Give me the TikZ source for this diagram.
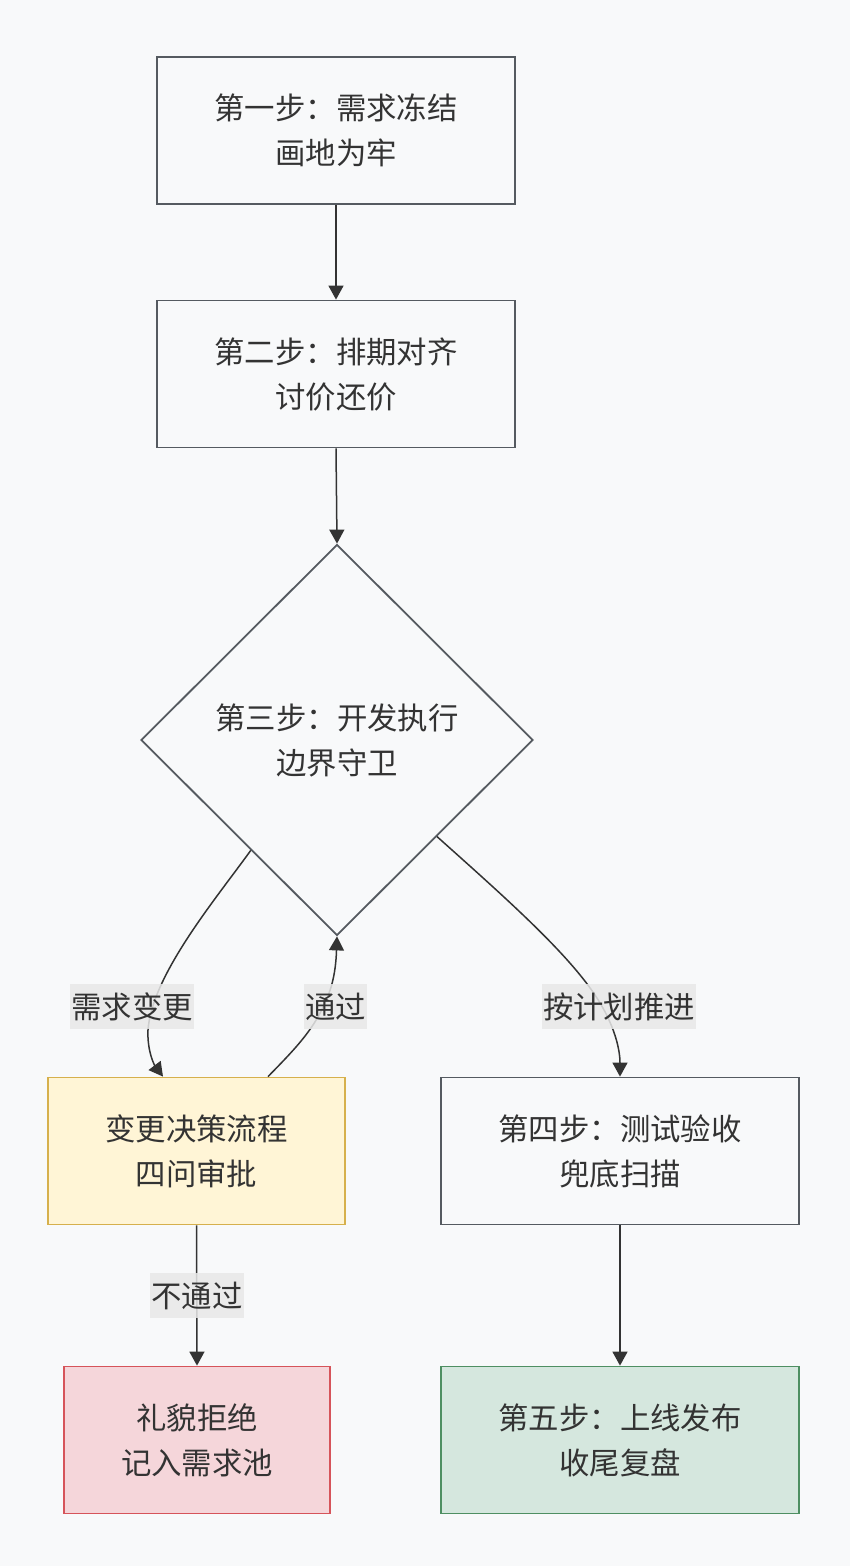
\documentclass[tikz,border=0pt]{standalone}
\usepackage{fontspec}
\setmainfont{Noto Sans CJK SC}
\usetikzlibrary{shapes.geometric,arrows.meta}
\definecolor{bg}{HTML}{F8F9FA}
\definecolor{nfill}{HTML}{F8F9FA}
\definecolor{nline}{HTML}{555A60}
\definecolor{txt}{HTML}{333333}
\definecolor{yfill}{HTML}{FFF5D6}
\definecolor{yline}{HTML}{D6B04C}
\definecolor{rfill}{HTML}{F5D6DA}
\definecolor{rline}{HTML}{D6545A}
\definecolor{gfill}{HTML}{D5E7DE}
\definecolor{gline}{HTML}{4E8F62}
\definecolor{lbg}{HTML}{E8E8E8}
\tikzset{
  base/.style={font=\fontsize{30.4pt}{45pt}\selectfont, text=txt, align=center, line width=1.8pt, inner sep=0pt},
  box/.style={base, rectangle, draw=nline, fill=nfill, minimum height=147pt},
  dia/.style={base, diamond, aspect=1, draw=nline, fill=nfill, minimum width=392pt, minimum height=391pt},
  ybox/.style={box, draw=yline, fill=yfill},
  rbox/.style={box, draw=rline, fill=rfill},
  gbox/.style={box, draw=gline, fill=gfill},
  edge/.style={draw=txt, line width=1.5pt, -{Triangle[length=14pt,width=15pt]}},
  lbl/.style={font=\fontsize{30.4pt}{45pt}\selectfont, text=txt, fill=lbg, fill opacity=0.85, text opacity=1, inner xsep=1pt, inner ysep=0pt, minimum height=45pt}
}
\begin{document}
\begin{tikzpicture}[x=1pt,y=-1pt]
\useasboundingbox[fill=bg] (0,0) rectangle (850,1566);
\node[box, minimum width=358pt] (s1) at (336,130.5) {第一步：需求冻结\\画地为牢};
\node[box, minimum width=358pt] (s2) at (336,374) {第二步：排期对齐\\讨价还价};
\node[dia] (d) at (337,740) {第三步：开发执行\\边界守卫};
\node[ybox, minimum width=297pt] (y) at (196.5,1151) {变更决策流程\\四问审批};
\node[box, minimum width=358pt] (s4) at (620,1151) {第四步：测试验收\\兜底扫描};
\node[rbox, minimum width=266pt] (r) at (197,1440) {礼貌拒绝\\记入需求池};
\node[gbox, minimum width=358pt] (g) at (620,1440) {第五步：上线发布\\收尾复盘};

\draw[edge] (s1.south) -- (s2.north);
\draw[edge] (s2.south) -- (d.north);
\draw[edge] (d.232.8) .. controls (215,900) and (152,975) .. (148,1030) .. controls (147,1052) and (155,1066) .. (y.north -| 163,0);
\draw[edge] (y.north -| 268,0) .. controls (292,1052) and (312,1032) .. (324,1005) .. controls (334,985) and (336,965) .. (d.south);
\draw[edge] (d.316.5) .. controls (500,893) and (565,950) .. (595,995) .. controls (615,1025) and (620,1050) .. (s4.north);
\draw[edge] (y.south) -- (r.north);
\draw[edge] (s4.south) -- (g.north);

\node[lbl] (l1) at (132,1006.5) {需求变更};
\node[lbl] (l2) at (335.5,1006.5) {通过};
\node[lbl] (l3) at (619,1006.5) {按计划推进};
\node[lbl] (l4) at (197,1295.5) {不通过};
\end{tikzpicture}
\end{document}
